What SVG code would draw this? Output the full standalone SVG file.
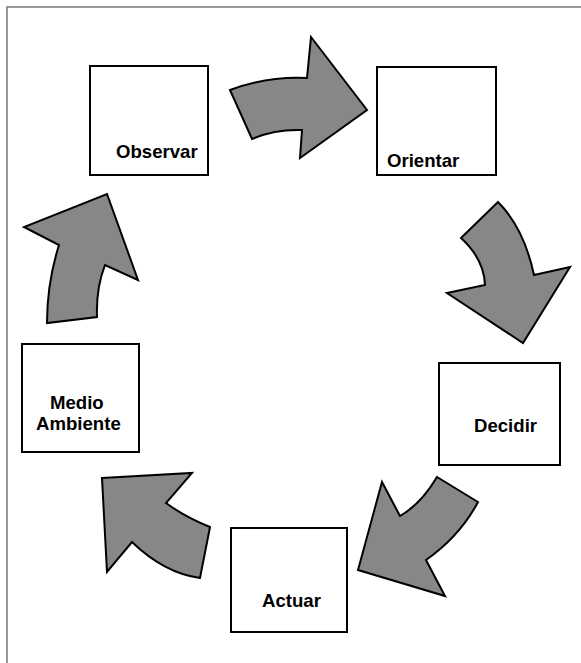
<svg xmlns="http://www.w3.org/2000/svg" width="581" height="663" viewBox="0 0 581 663">
<style>
.box{fill:#fff;stroke:#000;stroke-width:2}
.lbl{font-family:"Liberation Sans",Arial,sans-serif;font-weight:bold;font-size:18.6px;fill:#000}
.arr{fill:#878787;stroke:#000;stroke-width:2;stroke-linejoin:miter}
</style>
<rect x="0" y="0" width="581" height="663" fill="#fff"/>
<path d="M7,663 L7,7 L581,7" fill="none" stroke="#7a7a7a" stroke-width="1.5"/>
<g id="connectors">
<path class="arr" d="M230,90 Q268,76 307,78 L311,37 L367,110 L300,158 L302,130 Q275,129 252,139 Z"/>
<path class="arr" d="M498,202 L461,238 Q484,259 485,285 L447,293 L523,343 L570,267 L534,275 Q524,228 498,202 Z"/>
<path class="arr" d="M437,477 L478,502 Q460,536 426,560 L445,596 L358,570 L382,482 L400,516 Q421,504 437,477 Z"/>
<path class="arr" d="M102,478 L192,473 L166,503 Q185,517 210,527 L200,578 Q164,573 132,542 L107,572 Z"/>
<path class="arr" d="M107,194 L138,280 L105,265 Q96,288 97,317 L47,323 Q47,283 59,245 L24,227 Z"/>
</g>
<g id="observar">
<rect class="box" x="90" y="66" width="118" height="109"/>
<text class="lbl" x="116" y="158">Observar</text>
</g>
<g id="orientar">
<rect class="box" x="377" y="67" width="119" height="108"/>
<text class="lbl" x="387" y="167">Orientar</text>
</g>
<g id="decidir">
<rect class="box" x="439" y="363" width="121" height="102"/>
<text class="lbl" x="474" y="432">Decidir</text>
</g>
<g id="actuar">
<rect class="box" x="231" y="528" width="116" height="104"/>
<text class="lbl" x="262" y="607">Actuar</text>
</g>
<g id="medio-ambiente">
<rect class="box" x="22" y="344" width="117" height="108"/>
<text class="lbl" x="50" y="409">Medio</text>
<text class="lbl" x="36" y="430">Ambiente</text>
</g>
</svg>
